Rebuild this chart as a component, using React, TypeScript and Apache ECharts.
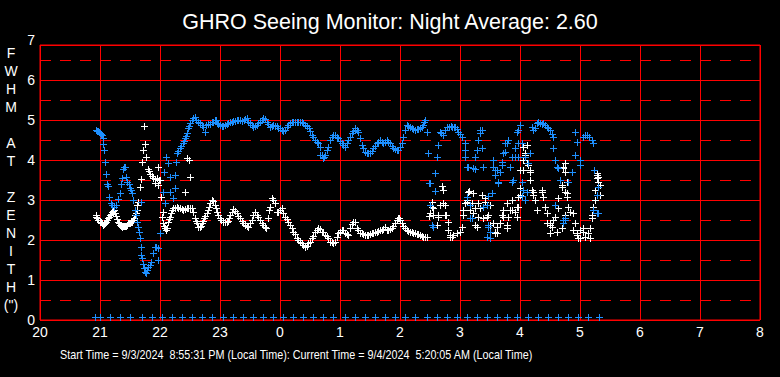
import React, { useEffect, useRef } from 'react';
import * as echarts from 'echarts';

const titleText = 'GHRO Seeing Monitor: Night Average: 2.60';
const footerText = 'Start Time = 9/3/2024  8:55:31 PM (Local Time): Current Time = 9/4/2024  5:20:05 AM (Local Time)';
const yAxisTitle = ['F', 'W', 'H', 'M', '', 'A', 'T', '', 'Z', 'E', 'N', 'I', 'T', 'H', '(")'];
const hourLabels = ['20', '21', '22', '23', '0', '1', '2', '3', '4', '5', '6', '7', '8'];
const yTickLabels = ['0', '1', '2', '3', '4', '5', '6', '7'];
const halfLevels = [0.5, 1.5, 2.5, 3.5, 4.5, 5.5, 6.5];

// minutes after 20:00 of the samples plotted at zero
const zeroMinutes = [55, 60, 70, 80, 90, 102, 112, 122, 132, 142, 152, 162, 172, 183, 193, 203, 213, 223, 233, 243, 253, 263, 273, 283, 293, 305, 315, 325, 335, 345, 355, 365, 375, 387, 397, 407, 417, 427, 437, 447, 457, 467, 477, 488, 498, 508, 518, 528, 538, 548, 559];

// [minutes after 20:00, FWHM arcsec]
const blueSeeing = [
  [56, 4.75], [57, 4.73], [58, 4.72], [59, 4.7], [60, 4.68], [61, 4.66], [62, 4.62], [63, 4.55], [63, 4.4], [64, 4.25], [65, 3.95], [66, 3.65], [67, 3.4], [68, 3.35], [69, 3.08], [71, 2.93], [72, 2.88], [74, 2.83], [76, 2.88], [78, 3.02], [80, 3.17], [81, 3.4], [82, 3.55], [83, 3.78], [84, 3.82], [85, 3.83], [86, 3.58], [87, 3.46], [89, 3.4], [90, 3.3], [91, 3.25], [92, 3.18], [93, 3.0], [101, 2.95], [95, 2.75], [96, 2.63], [97, 2.45], [98, 2.33], [99, 2.2], [100, 2.05], [101, 1.83], [101, 1.63], [102, 1.55], [103, 1.4], [104, 1.3], [105, 1.2], [106, 1.18], [107, 1.25], [108, 1.33], [110, 1.38], [111, 1.46], [113, 1.67], [115, 1.83], [116, 1.83], [118, 1.8], [118, 1.5], [120, 2.18], [123, 3.2], [124, 3.7], [125, 2.93], [126, 4.08], [128, 3.92], [130, 3.2], [130, 3.57], [133, 3.04], [135, 3.3], [135, 3.63], [136, 3.96], [137, 4.17], [138, 4.22], [140, 4.29], [141, 4.35], [143, 4.42], [144, 4.48], [145, 4.54], [146, 4.6], [147, 4.67], [148, 4.79], [149, 4.85], [150, 4.92], [152, 5.0], [153, 5.04], [155, 5.07], [156, 5.0], [158, 4.96], [160, 4.92], [162, 4.88], [163, 4.83], [165, 4.71], [166, 4.88], [168, 4.9], [170, 4.9], [172, 4.94], [173, 4.96], [175, 5.0], [176, 5.0],
  [177, 4.92], [178, 4.9], [180, 4.88], [182, 4.86], [183, 4.85], [185, 4.88], [187, 4.9], [188, 4.92], [190, 4.94], [192, 4.96], [193, 4.97], [195, 4.98], [197, 5.0], [198, 5.0], [200, 4.99], [202, 4.98], [204, 5.0], [205, 5.02], [207, 5.04], [208, 4.96], [210, 4.92], [212, 4.87], [213, 4.83], [215, 4.85], [217, 4.88], [218, 4.92], [220, 4.96], [222, 5.0], [223, 5.04], [225, 5.02], [227, 4.96], [228, 4.9], [230, 4.83], [232, 4.86], [233, 4.88], [235, 4.86], [237, 4.84], [238, 4.8], [240, 4.79], [242, 4.75], [243, 4.72], [245, 4.75], [247, 4.83], [248, 4.88], [250, 4.92], [252, 4.95], [253, 4.96], [255, 4.96], [257, 4.96], [258, 4.96], [260, 4.96], [262, 4.94], [263, 4.92], [265, 4.88], [267, 4.85], [269, 4.79], [270, 4.72], [272, 4.63], [273, 4.58], [275, 4.5], [277, 4.46], [278, 4.42], [280, 4.33], [280, 4.13], [282, 4.13], [283, 4.04], [284, 4.08], [285, 4.13], [287, 4.25], [288, 4.33], [290, 4.5], [292, 4.58], [293, 4.62], [295, 4.63], [297, 4.58], [298, 4.54], [300, 4.48], [302, 4.42], [303, 4.38], [305, 4.33], [307, 4.42], [308, 4.5], [310, 4.58], [312, 4.67], [313, 4.73], [315, 4.79], [317, 4.75], [318, 4.71], [320, 4.54], [322, 4.38], [323, 4.29], [325, 4.2], [327, 4.17], [328, 4.17], [330, 4.17], [332, 4.23], [333, 4.29], [335, 4.36], [337, 4.42], [338, 4.46], [340, 4.5], [342, 4.46], [343, 4.42], [345, 4.46], [347, 4.5], [348, 4.46], [350, 4.42], [352, 4.35], [353, 4.29], [355, 4.27], [357, 4.25], [358, 4.25], [360, 4.33], [362, 4.42], [363, 4.58], [365, 4.75], [367, 4.88], [368, 4.85], [370, 4.83], [372, 4.8], [373, 4.77], [375, 4.75], [377, 4.77], [378, 4.78], [380, 4.79], [382, 4.83], [383, 4.88], [384, 4.94], [385, 5.0],
  [387, 4.71], [388, 4.17], [389, 3.43], [390, 2.88], [390, 3.42], [392, 2.38], [393, 2.33], [395, 3.23], [395, 3.67], [397, 4.08], [398, 4.38], [400, 4.71], [401, 4.67], [403, 4.63], [405, 4.75], [407, 4.83], [409, 4.83], [411, 4.85], [412, 4.83], [414, 4.83], [415, 4.83], [417, 4.77], [418, 4.71], [420, 4.65], [422, 4.58], [425, 4.42], [425, 4.25], [425, 4.08], [427, 3.83], [427, 3.08], [428, 3.83], [430, 2.88], [430, 2.54], [432, 2.54], [433, 3.79], [435, 4.08], [435, 3.77], [437, 4.25], [438, 4.5], [440, 4.67], [440, 4.75], [442, 4.29], [442, 4.75], [443, 3.83], [443, 2.83], [447, 2.88], [447, 2.08], [448, 2.38], [448, 2.33], [448, 3.1], [450, 2.21], [450, 2.04], [452, 3.17], [453, 4.0], [453, 3.83], [455, 3.75], [455, 3.63], [457, 3.75], [458, 3.42], [458, 3.46], [460, 3.71], [462, 3.88], [462, 3.96], [463, 4.17], [465, 4.42], [465, 4.21], [467, 4.42], [468, 4.5], [470, 3.83], [472, 3.46], [472, 4.08], [473, 3.5], [475, 4.08], [475, 4.29], [477, 4.71], [478, 4.42], [478, 4.08], [478, 4.75], [480, 4.88], [482, 3.46], [482, 4.42], [482, 3.1], [483, 3.25], [485, 3.0], [485, 4.08], [487, 3.21], [488, 3.92], [490, 4.17], [492, 4.83], [493, 4.75], [495, 4.8], [497, 4.92], [498, 4.94], [500, 4.92], [502, 4.9], [503, 4.92], [505, 4.88], [507, 4.83], [508, 4.8], [510, 4.75], [512, 4.65], [513, 4.58], [513, 4.29], [515, 4.0], [515, 2.88], [517, 3.83], [518, 3.79], [520, 3.5], [523, 2.5], [523, 2.42], [525, 2.54], [525, 2.5], [528, 3.46], [532, 3.71], [535, 4.71], [535, 4.13], [537, 4.46], [540, 4.0], [540, 3.88], [543, 4.58], [545, 4.62], [547, 4.63], [549, 4.58], [552, 4.5], [553, 4.42], [553, 2.75], [554, 3.75], [557, 3.13], [557, 2.67], [558, 3.33], [558, 2.67]
];

const whiteSeeing = [
  [56, 2.58], [56, 2.62], [57, 2.55], [58, 2.5], [60, 2.45], [61, 2.44], [62, 2.43], [63, 2.38], [64, 2.4], [65, 2.42], [66, 2.46], [67, 2.5], [68, 2.55], [69, 2.58], [70, 2.63], [71, 2.66], [72, 2.7], [73, 2.72], [74, 2.75], [75, 2.68], [76, 2.6], [77, 2.52], [78, 2.45], [79, 2.42], [80, 2.38], [81, 2.35], [82, 2.33], [83, 2.34], [84, 2.35], [85, 2.35], [86, 2.36], [87, 2.38], [88, 2.43], [89, 2.42], [90, 2.43], [91, 2.44], [92, 2.45], [93, 2.5], [94, 2.55], [95, 2.63], [96, 2.68], [97, 2.75], [97, 2.88], [98, 2.96],
  [104, 4.85], [105, 4.4], [103, 4.25], [106, 4.08], [102, 3.95], [118, 3.83], [108, 3.77], [109, 3.72], [110, 3.65], [112, 3.6], [113, 3.55], [115, 3.52], [117, 3.55], [119, 3.5], [115, 3.43], [101, 3.53], [100, 3.33], [118, 3.38], [121, 3.08], [120, 3.5], [147, 4.05], [149, 4.0], [150, 3.58], [145, 3.2],
  [122, 2.57], [123, 2.71], [123, 2.42], [124, 2.35], [125, 2.3], [126, 2.25], [127, 2.3], [128, 2.46], [129, 2.52], [130, 2.58], [131, 2.68], [132, 2.75], [133, 2.79], [135, 2.8], [137, 2.82], [138, 2.8], [140, 2.79], [142, 2.77], [143, 2.75], [145, 2.77], [147, 2.79], [148, 2.8], [150, 2.8], [152, 2.79], [153, 2.7], [155, 2.54], [156, 2.48], [157, 2.42], [158, 2.33], [160, 2.32], [161, 2.36], [162, 2.42], [163, 2.48], [164, 2.54], [165, 2.6], [167, 2.67], [168, 2.75], [169, 2.83], [170, 2.92], [172, 3.0], [173, 2.98], [175, 2.88], [176, 2.8], [177, 2.71], [178, 2.63], [180, 2.54], [181, 2.5], [183, 2.46], [185, 2.45], [187, 2.46], [188, 2.48], [189, 2.54], [190, 2.62], [192, 2.71], [193, 2.77], [195, 2.72], [197, 2.67], [198, 2.6], [200, 2.54], [202, 2.47], [203, 2.42], [205, 2.38], [207, 2.35], [208, 2.33], [210, 2.42], [212, 2.5], [213, 2.62], [215, 2.69], [217, 2.63], [218, 2.58], [220, 2.5], [222, 2.42], [223, 2.38], [225, 2.33], [226, 2.29], [228, 2.54], [229, 2.75], [230, 2.83], [232, 3.04], [233, 3.0], [235, 2.92], [237, 2.71], [238, 2.71], [240, 2.75], [242, 2.79], [243, 2.67], [245, 2.58], [247, 2.52], [248, 2.46], [250, 2.38], [252, 2.3], [253, 2.21], [255, 2.15], [257, 2.04], [258, 2.0], [260, 1.96], [262, 1.92], [263, 1.88], [265, 1.83], [267, 1.85], [268, 1.92], [270, 1.96], [272, 2.04], [273, 2.1], [275, 2.21], [277, 2.25], [278, 2.29], [280, 2.28], [282, 2.21], [283, 2.2], [285, 2.13], [287, 2.1], [288, 2.05], [290, 1.96], [292, 1.94], [293, 1.93], [295, 1.96], [297, 2.08], [298, 2.17], [300, 2.21], [302, 2.25], [303, 2.25], [305, 2.17], [307, 2.15], [308, 2.13], [310, 2.3], [312, 2.4], [313, 2.45], [315, 2.46], [317, 2.29], [318, 2.25], [320, 2.17], [322, 2.17], [323, 2.15], [325, 2.13], [327, 2.13], [328, 2.13], [330, 2.15], [332, 2.17], [333, 2.18], [335, 2.2], [337, 2.21], [338, 2.23], [340, 2.25], [342, 2.25], [343, 2.28], [345, 2.33], [347, 2.25], [348, 2.25], [350, 2.27], [352, 2.29], [353, 2.35], [355, 2.42], [357, 2.5], [358, 2.54], [359, 2.55], [360, 2.5], [362, 2.42], [363, 2.35], [365, 2.29], [367, 2.25], [368, 2.23], [370, 2.21], [372, 2.19], [373, 2.18], [375, 2.17], [377, 2.15], [378, 2.14], [380, 2.13], [382, 2.1], [383, 2.08], [385, 2.08], [387, 2.08],
  [389, 2.6], [390, 2.67], [392, 2.96], [392, 2.83], [393, 2.79], [393, 2.63], [397, 2.38], [398, 2.58], [398, 2.62], [400, 2.88], [402, 3.35], [403, 3.25], [403, 2.92], [405, 2.88], [405, 2.62], [406, 2.63], [408, 2.46], [408, 2.25], [410, 2.08], [410, 2.13], [412, 2.08], [413, 2.13], [417, 2.18], [420, 2.21], [422, 2.33], [423, 2.75], [423, 2.63], [425, 2.92], [427, 3.0], [427, 2.96], [428, 3.21], [429, 3.23], [430, 2.75], [432, 2.92], [433, 2.67], [433, 3.17], [435, 2.79], [435, 2.38], [437, 2.32], [438, 2.92], [438, 2.58], [440, 2.79], [442, 3.13], [443, 2.54], [445, 3.04], [445, 2.96], [447, 2.58], [448, 2.63], [450, 2.88], [450, 2.38], [453, 2.42], [455, 2.21], [455, 2.17], [457, 2.17], [457, 2.33], [460, 2.42], [462, 2.63], [463, 2.58], [463, 2.75], [467, 2.38], [467, 2.29], [467, 2.92], [468, 2.58], [470, 2.75], [472, 2.75], [472, 3.0], [475, 2.71], [477, 2.58], [477, 2.83], [478, 2.83], [478, 3.08], [480, 3.13], [480, 3.29], [480, 3.75], [483, 3.75], [483, 4.0], [483, 4.33], [485, 4.17], [485, 4.13], [487, 4.38], [487, 3.92], [488, 3.88], [490, 3.75], [490, 3.71], [490, 3.5], [492, 3.25], [493, 3.13], [493, 3.21], [495, 3.0], [497, 2.75], [502, 3.21], [502, 3.25], [503, 3.08], [505, 2.83], [507, 2.67], [507, 2.42], [510, 2.38], [510, 2.17], [510, 2.42], [512, 2.33], [513, 2.5], [515, 2.58], [517, 2.21], [518, 2.79], [518, 3.04], [522, 3.33], [522, 3.38], [522, 2.29], [523, 3.79], [523, 3.83], [523, 2.42], [525, 3.92], [525, 3.71], [525, 2.63], [525, 3.21], [527, 3.17], [527, 3.46], [527, 3.08], [528, 2.83], [530, 2.71], [533, 2.67], [533, 2.25], [535, 2.42], [537, 2.17], [537, 2.13], [538, 2.04], [540, 2.25], [540, 2.04], [543, 2.29], [543, 2.21], [545, 2.08], [548, 2.17], [550, 2.04], [550, 2.29], [552, 2.54], [552, 2.63], [553, 2.83], [555, 3.25], [555, 3.0], [557, 3.54], [557, 3.63], [557, 3.67], [558, 3.46], [558, 3.58], [560, 3.38], [560, 3.13]
];

const RED = '#ff0000';
const BLUE = '#1e90ff';
const FONT = '"Liberation Sans", Arial, sans-serif';

// crisp "+" marker drawn at the data point projected by the chart's own axes
const plusRenderer = (color: string, dy: number) => (_params: any, api: any) => {
  const p = api.coord([api.value(0), api.value(1)]);
  const cx = Math.round(p[0]);
  const cy = Math.round(p[1]) + dy;
  return {
    type: 'group',
    children: [
      { type: 'rect', shape: { x: cx - 3, y: cy, width: 7, height: 1 }, style: { fill: color } },
      { type: 'rect', shape: { x: cx, y: cy - 3, width: 1, height: 7 }, style: { fill: color } },
    ],
  };
};

export default function App() {
  const ref = useRef<HTMLDivElement>(null);
  useEffect(() => {
    document.body.style.margin = '0';
    document.body.style.background = '#000';
    const chart = echarts.init(ref.current!, null, { renderer: 'svg' });
    chart.setOption({
      animation: false,
      backgroundColor: '#000',
      title: {
        text: titleText,
        left: 'center',
        top: 6,
        textStyle: { color: '#fff', fontSize: 21.5, fontWeight: 'normal', fontFamily: FONT },
      },
      grid: { left: 40, right: 20, top: 45, bottom: 57, show: true, borderColor: RED, borderWidth: 1, containLabel: false, outerBoundsMode: 'none' },
      xAxis: {
        type: 'value', min: 0, max: 720, interval: 60,
        axisLine: { show: false }, axisTick: { show: false },
        splitLine: { show: true, lineStyle: { color: RED, width: 1 } },
        axisLabel: { color: '#fff', fontSize: 14, fontFamily: FONT, margin: 5, formatter: (v: number) => hourLabels[Math.round(v / 60)] },
      },
      yAxis: {
        type: 'value', min: 0, max: 6.875, interval: 1,
        axisLine: { show: false }, axisTick: { show: false },
        splitLine: { show: true, lineStyle: { color: RED, width: 1 } },
        axisLabel: {
          color: '#fff', fontSize: 14, fontFamily: FONT, margin: 5,
          formatter: (v: number) => (v > 6.5 ? '' : yTickLabels[Math.round(v)]),
        },
      },
      series: [
        {
          type: 'custom', z: 2, data: zeroMinutes.map((m) => [m, 0]),
          renderItem: plusRenderer(BLUE, -3),
          markLine: {
            silent: true, symbol: ['none', 'none'], z: 1,
            label: { show: false },
            lineStyle: { color: RED, width: 1, type: [11, 9] },
            data: halfLevels.map((y) => ({ yAxis: y })),
          },
        },
        { type: 'custom', z: 3, data: whiteSeeing, renderItem: plusRenderer('#ffffff', 0) },
        { type: 'custom', z: 4, data: blueSeeing, renderItem: plusRenderer(BLUE, 0) },
      ],
      graphic: [
        {
          type: 'text', x: 35, y: 40,
          style: { text: yTickLabels[7], fill: '#fff', fontSize: 14, fontFamily: FONT, align: 'right', verticalAlign: 'middle' },
        },
        {
          type: 'text', x: 11, y: 44,
          style: { text: yAxisTitle.join('\n'), fill: '#fff', fontSize: 14, fontFamily: FONT, align: 'center', verticalAlign: 'top', lineHeight: 18 },
        },
        {
          type: 'text', x: 60, y: 355, scaleX: 0.83,
          style: { text: footerText, fill: '#fff', fontSize: 13, fontFamily: FONT, align: 'left', verticalAlign: 'middle' },
        },
      ],
    });
    return () => chart.dispose();
  }, []);
  return <div ref={ref} style={{ position: 'fixed', left: 0, top: 0, width: 780, height: 377, background: '#000' }} />;
}
